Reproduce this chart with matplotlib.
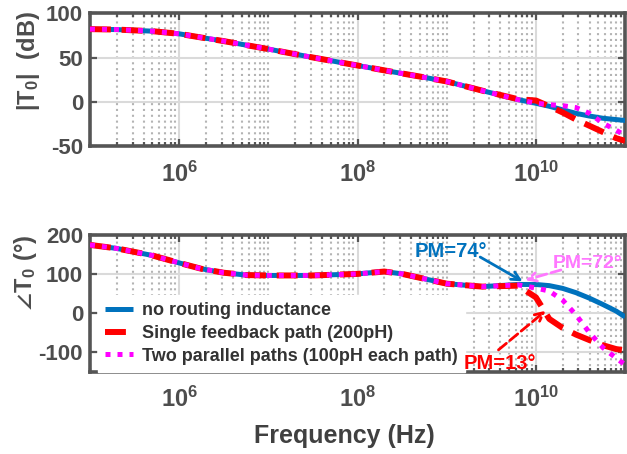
import matplotlib
matplotlib.use("Agg")
import matplotlib.pyplot as plt
import numpy as np
from matplotlib.ticker import FixedLocator, LogLocator, NullFormatter, FixedFormatter

freq_exp = [5.0, 5.3, 5.7, 6.0, 6.25, 6.5, 6.75, 7.0, 7.5, 8.0, 8.3, 8.5, 8.7,
            9.0, 9.4, 9.8, 10.0, 10.15, 10.3, 10.45, 10.6, 10.75, 10.9, 11.0]

# |T0| in dB
mag_none = [82, 81.5, 79.7, 76.7, 72.5, 68.5, 64, 59.5, 50, 41, 35.5, 32, 28.5,
            23, 12.6, 2.5, -1.6, -5, -9, -13, -16, -18.5, -20, -21]
mag_single = [82, 81.5, 79.7, 76.7, 72.5, 68.5, 64, 59.5, 50, 41, 35.5, 32, 28.5,
              23, 12.6, 3, 1.5, -5, -12, -20, -27, -34, -41, -44]
mag_two = [82, 81.5, 79.7, 76.7, 72.5, 68.5, 64, 59.5, 50, 41, 35.5, 32, 28.5,
           23, 12.6, 2.5, -1.5, -3.2, -4.3, -6.5, -13, -24, -32, -38]

# angle of T0 in degrees
ph_none = [174, 165, 147, 128, 113, 103, 97, 96, 96, 100, 106, 100, 90,
           75, 67.5, 73, 73, 70, 63, 52, 38, 22, 5, -10]
ph_single = [174, 165, 147, 128, 113, 103, 97, 96, 96, 100, 106, 100, 90,
             75, 67.5, 70, 40, -15, -38, -55, -69, -82, -92, -95]
ph_two = [174, 165, 147, 128, 113, 103, 97, 96, 96, 100, 106, 100, 90,
          75, 67.5, 72, 64, 56, 33, -5, -50, -88, -115, -132]

labels = ["no routing inductance", "Single feedback path (200pH)",
          "Two parallel paths (100pH each path)"]
pm_text = ["PM=74°", "PM=72°", "PM=13°"]

freq = 10 ** np.array(freq_exp)

blue = "#0072BD"
red = "#FF0000"
mag = "#FF00FF"
pink = "#FF77FF"
axc = "#555555"
txtc = "#4d4d4d"

plt.rcParams['font.family'] = ['Liberation Sans', 'DejaVu Sans']
plt.rcParams['font.weight'] = 'bold'
plt.rcParams['axes.unicode_minus'] = False
plt.rcParams['mathtext.fontset'] = 'custom'
plt.rcParams['mathtext.rm'] = 'Liberation Sans:bold'
plt.rcParams['mathtext.it'] = 'Liberation Sans:bold'
plt.rcParams['mathtext.bf'] = 'Liberation Sans:bold'
plt.rcParams['mathtext.fallback'] = 'stixsans'

fig = plt.figure(figsize=(6.27, 4.54), dpi=100)
ax1 = fig.add_axes([0.1435, 0.678, 0.8535, 0.293])
ax2 = fig.add_axes([0.1435, 0.181, 0.8535, 0.302])


def draw(ax, a, b, c):
    ax.plot(freq, a, color=blue, lw=3.6, solid_capstyle='butt', label=labels[0], zorder=3)
    ax.plot(freq, b, color=red, lw=4.3, dashes=(3.5, 1.8), dash_capstyle='butt',
            label=labels[1], zorder=4)
    ax.plot(freq, c, color=mag, lw=3.6, dashes=(1, 1.4), dash_capstyle='butt',
            label=labels[2], zorder=5)


def style(ax, yticks, ylim):
    ax.set_xscale('log')
    ax.set_xlim(1e5, 1e11)
    ax.set_ylim(*ylim)
    ax.xaxis.set_major_locator(FixedLocator([1e6, 1e8, 1e10]))
    ax.xaxis.set_major_formatter(FixedFormatter([r'$\mathrm{10^{6}}$',
                                                 r'$\mathrm{10^{8}}$',
                                                 r'$\mathrm{10^{10}}$']))
    ax.xaxis.set_minor_locator(LogLocator(base=10, subs=np.arange(1, 10), numticks=50))
    ax.xaxis.set_minor_formatter(NullFormatter())
    ax.set_yticks(yticks)
    ax.grid(True, which='major', color='#dadada', lw=1.5, ls='-', zorder=0)
    ax.grid(True, which='minor', axis='x', color='#b4b4b4', lw=1.5,
            ls=(0, (1, 1.8)), zorder=0)
    ax.set_axisbelow(True)
    for s in ax.spines.values():
        s.set_color(axc)
        s.set_linewidth(2.6)
    ax.tick_params(which='both', direction='in', top=True, right=True,
                   color=axc, width=1.6)
    ax.tick_params(which='major', length=5)
    ax.tick_params(which='minor', length=3)
    ax.tick_params(axis='y', labelsize=16, labelcolor=txtc, pad=5)
    ax.tick_params(axis='x', labelsize=17, labelcolor=txtc, pad=11)
    for t in ax.get_yticklabels() + ax.get_xticklabels():
        t.set_fontweight('bold')


draw(ax1, mag_none, mag_single, mag_two)
style(ax1, [-50, 0, 50, 100], (-50, 100))
ax1.set_ylabel(r'$\mathrm{|T_0|\ \ (dB)}$', fontsize=17, color=txtc)
ax1.yaxis.set_label_coords(-0.09, 0.64)

draw(ax2, ph_none, ph_single, ph_two)
style(ax2, [-100, 0, 100, 200], (-150, 200))
ax2.set_ylabel('$\\angle\\mathrm{T_0\\ (\u00b0)}$', fontsize=17, color=txtc)
ax2.yaxis.set_label_coords(-0.095, 0.72)

leg = ax2.legend(loc='lower left', bbox_to_anchor=(0.015, 0.0), borderaxespad=0,
                 borderpad=0.4, fontsize=13, handlelength=1.55, handletextpad=0.5,
                 labelspacing=0.32, frameon=True, fancybox=False, framealpha=1,
                 facecolor='white', edgecolor='white')
leg.set_zorder(6)
for t in leg.get_texts():
    t.set_color('#333333')

# phase margin notes: arrows then labels
arrow_kw = dict(arrowstyle='->, head_length=0.6, head_width=0.3', lw=2,
                shrinkA=0, shrinkB=0)
ax2.annotate('', xy=(10 ** 9.85, 81), xytext=(10 ** 9.375, 143),
             arrowprops=dict(color=blue, **arrow_kw), zorder=7)
ax2.annotate('', xy=(10 ** 9.88, 84), xytext=(10 ** 10.28, 110),
             arrowprops=dict(color=pink, ls='--', **arrow_kw), zorder=7)
ax2.annotate('', xy=(10 ** 10.11, 6), xytext=(10 ** 9.58, -94),
             arrowprops=dict(color=red, ls='--', **arrow_kw), zorder=7)
ax2.text(10 ** 9.05, 158, pm_text[0], ha='center', va='center', fontsize=14.5,
         color=blue, zorder=7)
ax2.text(10 ** 10.975, 126, pm_text[1], ha='right', va='center', fontsize=14,
         color=pink, zorder=7)
ax2.text(10 ** 9.6, -128, pm_text[2], ha='center', va='center', fontsize=14.5,
         color=red, zorder=7)

fig.text(344 / 627, 1 - 443 / 454, 'Frequency (Hz)', ha='center', va='baseline',
         fontsize=18, color='#404040', fontweight='bold')

fig.savefig('out.png', dpi=100)
